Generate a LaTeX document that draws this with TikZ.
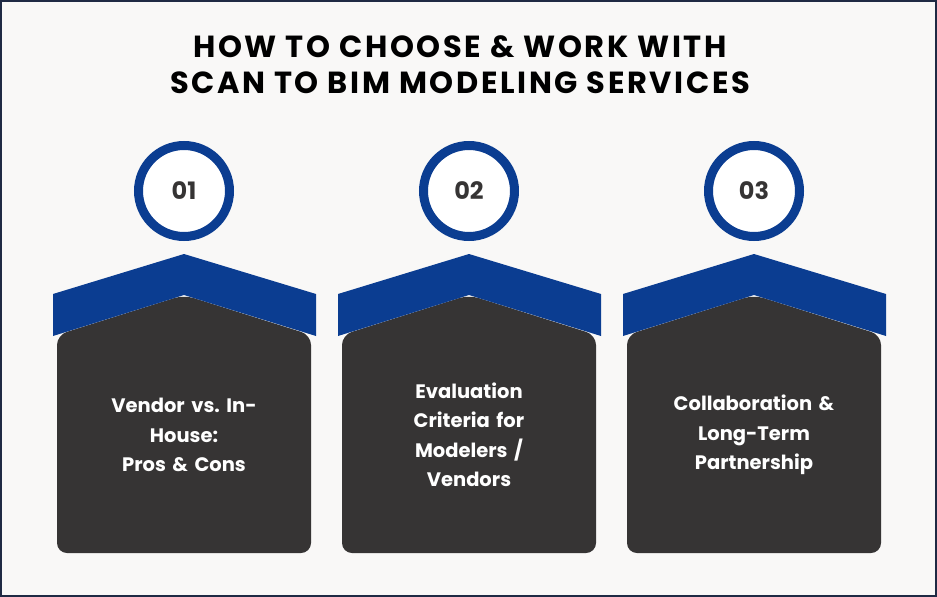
\documentclass[tikz,border=0pt]{standalone}
\usepackage{fontspec}
\setmainfont{Poppins}
\definecolor{bg}{HTML}{F9F8F7}
\definecolor{navy}{HTML}{0B3D91}
\definecolor{dark}{HTML}{363434}
\definecolor{frame}{HTML}{1F2A44}
\begin{document}
\frenchspacing
\begin{tikzpicture}[x=1pt,y=-1pt,
  body/.style={fill=dark,rounded corners=10pt},
  roof/.style={fill=navy},
  ring/.style={circle,draw=navy,line width=9pt,fill=white,minimum size=91pt,inner sep=0pt,font=\bfseries\fontsize{24}{28}\selectfont,text=dark},
  label/.style={align=center,text=white,font=\bfseries\fontsize{19.5}{29.5}\selectfont,text width=220pt},
  ttl/.style={align=center,text=black,font=\bfseries\fontsize{30.5}{36}\selectfont\addfontfeatures{LetterSpace=8.5}}]
\fill[bg,draw=frame,line width=2pt] (1,1) rectangle (936,596);
\useasboundingbox (0,0) rectangle (937,597);
\node[ttl] (title) at (460,65) {HOW TO CHOOSE \& WORK WITH\\SCAN TO BIM MODELING SERVICES};
\foreach \c/\n/\t/\y in {184/01/{Vendor vs. In-\\House:\\Pros \& Cons}/435,
                      469/02/{Evaluation\\Criteria for\\Modelers /\\Vendors}/435,
                      754/03/{Collaboration \&\\Long-Term\\Partnership}/435}{
  \fill[body] (\c-127,553) -- (\c-127,335) -- (\c,295) -- (\c+127,335) -- (\c+127,553) -- cycle;
  \fill[roof] (\c-131,336) -- (\c-131,294) -- (\c,254) -- (\c+132,294) -- (\c+132,336) -- (\c,295) -- cycle;
  \node[ring] (n\n) at (\c,191) {\n};
  \node[label] (t\n) at (\c,\y) {\t};
}
\end{tikzpicture}
\end{document}
